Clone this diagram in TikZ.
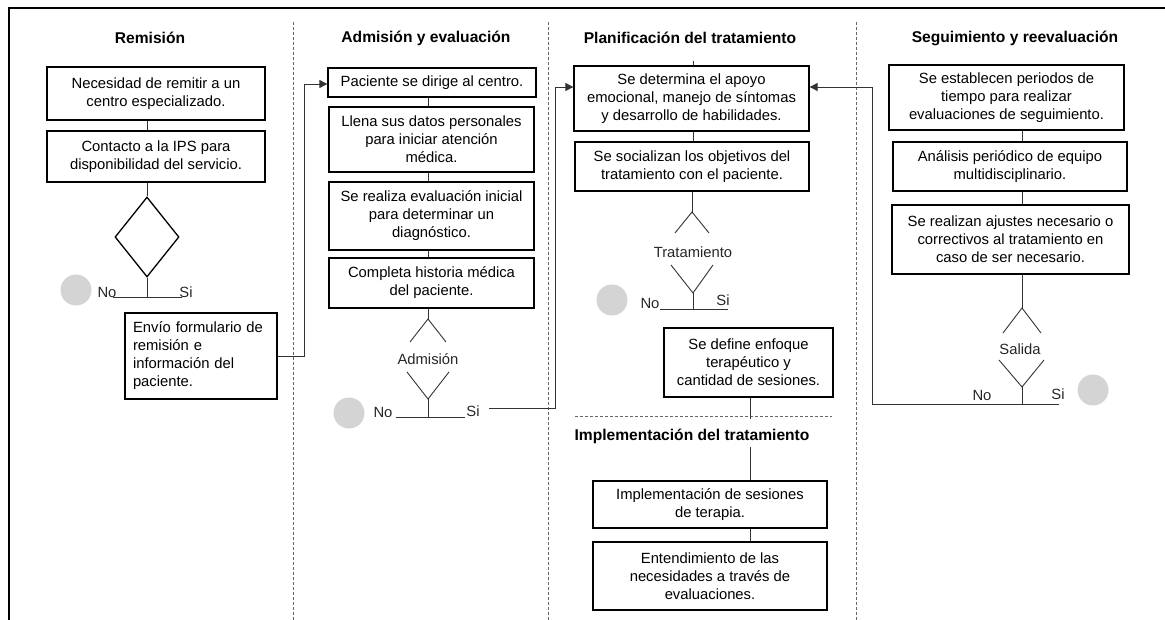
\documentclass[tikz,border=0pt]{standalone}
\usepackage{fontspec}
\setmainfont{Liberation Sans}
\usepackage{tikz}
\usetikzlibrary{arrows, arrows.meta, shapes.geometric}

\newcommand{\letra}{\fontsize{14.8}{18}\selectfont}
\newcommand{\letratit}{\fontsize{15.6}{18}\selectfont\bfseries}

\tikzset{
  caja/.style={draw, line width=1.3pt, inner sep=0pt, align=center},
  linea/.style={line width=0.9pt, draw=black!80},
  flecha/.style={linea, -{Triangle[length=8pt,width=8pt]}},
  separa/.style={draw=black!60, line width=0.8pt, dash pattern=on 3pt off 2pt},
  titulo/.style={font=\letratit},
  punto/.style={circle, fill=black!17, minimum size=31pt, inner sep=0pt},
  etiq/.style={text=black!85},
}

\begin{document}
\begin{tikzpicture}[x=1pt, y=-1pt, every node/.style={font=\letra}]
 			\useasboundingbox (0,0) rectangle (1165,620);
 			% marco y carriles
 			\draw[line width=1.5pt] (9,620) -- (9,8) -- (1165,8);
 			\foreach \xs in {293,548,856}
 				\draw[separa] (\xs,22) -- (\xs,620);
 			\draw[separa] (575,416) -- (832,416);
 			% titulos
 			\node[titulo] (trem) at (150,38) {Remisión};
 			\node[titulo] (tadm) at (426,38) {Admisión y evaluación};
 			\node[titulo] (tpla) at (690,38) {Planificación del tratamiento};
 			\node[titulo] (tseg) at (1015,38) {Seguimiento y reevaluación};
 			\node[titulo] (timp) at (692,436) {Implementación del tratamiento};
 			% remision
 			\node[caja, minimum width=218pt, minimum height=53pt] (rem1) at (156,93.5) {Necesidad de remitir a un\\centro especializado.};
 			\node[caja, minimum width=218pt, minimum height=51pt] (rem2) at (156,156.5) {Contacto a la IPS para\\disponibilidad del servicio.};
 			\node[draw, line width=1.3pt, diamond, minimum width=64pt, minimum height=80pt, inner sep=0pt] (remdec) at (147,237) {};
 			\coordinate (rembar) at (147,297);
 			\node[etiq] (remno) at (107,292) {No};
 			\node[etiq] (remsi) at (186,292) {Si};
 			\node[punto] (remfin) at (76,290) {};
 			\node[caja, minimum width=152pt, minimum height=86pt, text width=136pt, align=left] (rem3) at (201,356) {Envío formulario de\\remisión e\\información del\\paciente.};
 			\draw[linea] (rem1.south -| remdec) to (rem2.north -| remdec);
 			\draw[linea] (rem2.south -| remdec) to (remdec.north);
 			\draw[linea] (remdec.south) to (rembar);
 			\draw[linea] ([xshift=-34pt]rembar) to ([xshift=35pt]rembar);
 			% admision y evaluacion
 			\node[caja, minimum width=208pt, minimum height=29pt] (adm1) at (432,82.5) {Paciente se dirige al centro.};
 			\node[caja, minimum width=205pt, minimum height=65pt] (adm2) at (431.5,139.5) {Llena sus datos personales\\para iniciar atención\\médica.};
 			\node[caja, minimum width=205pt, minimum height=68pt] (adm3) at (431.5,216) {Se realiza evaluación inicial\\para determinar un\\diagnóstico.};
 			\node[caja, minimum width=205pt, minimum height=50pt] (adm4) at (431.5,283) {Completa historia médica\\del paciente.};
 			\node[etiq] (admdec) at (428,359) {Admisión};
 			\coordinate (admtop) at (428,319);
 			\coordinate (admbase) at (428,399);
 			\coordinate (admbar) at (428,417);
 			\node[etiq] (admno) at (383,412) {No};
 			\node[etiq] (admsi) at (473,411) {Si};
 			\node[punto] (admfin) at (349,413) {};
 			\coordinate (admsal) at (489,408);
 			\draw[linea] (adm1.south -| admdec) to (adm2.north -| admdec);
 			\draw[linea] (adm2.south -| admdec) to (adm3.north -| admdec);
 			\draw[linea] (adm3.south -| admdec) to (adm4.north -| admdec);
 			\draw[linea] (adm4.south -| admdec) to (admtop);
 			\draw[linea] (admtop) ++(-18,23) -- (admtop) -- ++(18,23);
 			\draw[linea] (admbase) ++(-21,-27) -- (admbase) -- ++(21,-27);
 			\draw[linea] (admbase) to (admbar);
 			\draw[linea] ([xshift=-32pt]admbar) to ([xshift=37pt]admbar);
 			\draw[flecha] (rem3.east) -- ++(27,0) |- ([yshift=-1.5pt]adm1.west);
 			% planificacion del tratamiento
 			\node[caja, minimum width=235pt, minimum height=65pt] (pla1) at (691.5,98.5) {Se determina el apoyo\\emocional, manejo de síntomas\\y desarrollo de habilidades.};
 			\node[caja, minimum width=234pt, minimum height=49pt] (pla2) at (692,166.5) {Se socializan los objetivos del\\tratamiento con el paciente.};
 			\node[etiq] (pladec) at (693,252) {Tratamiento};
 			\coordinate (platop) at (692,212);
 			\coordinate (plabase) at (693,293);
 			\coordinate (plabar) at (693,309);
 			\node[etiq] (plano) at (650,303) {No};
 			\node[etiq] (plasi) at (723,300) {Si};
 			\node[punto] (plafin) at (612,300) {};
 			\node[caja, minimum width=169pt, minimum height=69pt] (pla3) at (748.5,362.5) {Se define enfoque\\terapéutico y\\cantidad de sesiones.};
 			\coordinate (plaimp) at (750,419);
 			\draw[linea] (pla1.north -| pladec) to ++(0,-4);
 			\draw[linea] (pla1.south -| pladec) to (pla2.north -| pladec);
 			\draw[linea] (pla2.south -| platop) to (platop);
 			\draw[linea] (platop) ++(-17,21) -- (platop) -- ++(17,21);
 			\draw[linea] (plabase) ++(-22,-28) -- (plabase) -- ++(20,-28);
 			\draw[linea] (plabase) to (plabar);
 			\draw[linea] ([xshift=-33pt]plabar) to ([xshift=35pt]plabar);
 			\draw[linea] (pla3.south -| plaimp) to (plaimp);
 			\draw[flecha] (admsal) -- ++(66,0) |- ([yshift=11.5pt]pla1.west);
 			% implementacion del tratamiento
 			\node[caja, minimum width=234pt, minimum height=47pt] (imp1) at (710,504.5) {Implementación de sesiones\\de terapia.};
 			\node[caja, minimum width=234pt, minimum height=68pt] (imp2) at (710,576) {Entendimiento de las\\necesidades a través de\\evaluaciones.};
 			\draw[linea] (timp.south -| plaimp) to (imp1.north -| plaimp);
 			\draw[linea] (imp1.south -| plaimp) to (imp2.north -| plaimp);
 			% seguimiento y reevaluacion
 			\node[caja, minimum width=235pt, minimum height=65pt] (seg1) at (1006.5,97.5) {Se establecen periodos de\\tiempo para realizar\\evaluaciones de seguimiento.};
 			\node[caja, minimum width=234pt, minimum height=49pt] (seg2) at (1010,166.5) {Análisis periódico de equipo\\multidisciplinario.};
 			\node[caja, minimum width=237pt, minimum height=69pt] (seg3) at (1010.5,239.5) {Se realizan ajustes necesario o\\correctivos al tratamiento en\\caso de ser necesario.};
 			\node[etiq] (segdec) at (1020,349) {Salida};
 			\coordinate (segtop) at (1022,308);
 			\coordinate (segbase) at (1022,387);
 			\coordinate (segbar) at (1022,404);
 			\node[etiq] (segno) at (982,395) {No};
 			\node[etiq] (segsi) at (1058,394) {Si};
 			\node[punto] (segfin) at (1093,390) {};
 			\draw[linea] (seg1.south -| segtop) to (seg2.north -| segtop);
 			\draw[linea] (seg2.south -| segtop) to (seg3.north -| segtop);
 			\draw[linea] (seg3.south -| segtop) to (segtop);
 			\draw[linea] (segtop) ++(-19,25) -- (segtop) -- ++(19,25);
 			\draw[linea] (segbase) ++(-23,-27) -- (segbase) -- ++(22,-27);
 			\draw[linea] (segbase) to (segbar);
 			\draw[flecha] ([xshift=37pt]segbar) -- ++(-187,0) |- ([yshift=11.5pt]pla1.east);
\end{tikzpicture}
\end{document}
